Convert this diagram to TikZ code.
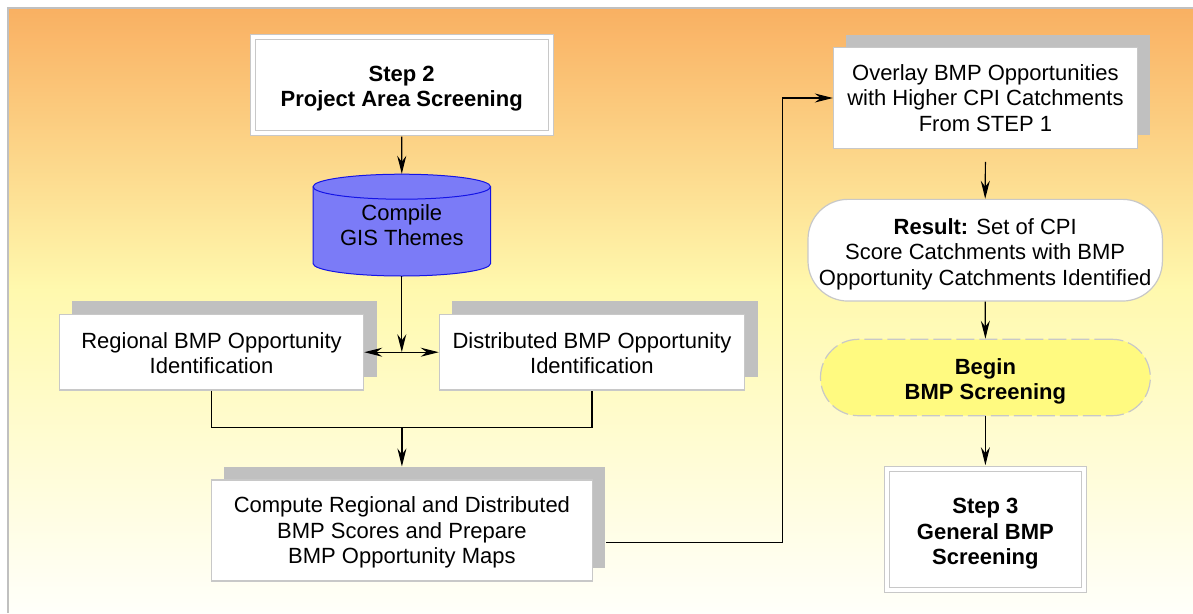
\documentclass[tikz,border=0pt]{standalone}
\usepackage{fontspec}
\setmainfont{Liberation Sans}
\usetikzlibrary{arrows.meta,shadows}
\definecolor{orangeC}{RGB}{249,176,98}
\definecolor{yellowC}{RGB}{255,249,174}
\definecolor{whiteC}{RGB}{255,255,250}
\definecolor{frameC}{RGB}{192,192,192}
\definecolor{shadowC}{RGB}{192,192,192}
\definecolor{borderC}{RGB}{200,200,200}
\definecolor{cylFill}{RGB}{123,123,247}
\definecolor{cylLine}{RGB}{20,20,230}
\definecolor{beginFill}{RGB}{255,250,128}
\newcommand{\mydown}[1]{\rule{0pt}{#1pt}}
\begin{document}
\begin{tikzpicture}[x=1pt,y=-1pt,
  txt/.style={font=\fontsize{22}{25.5}\selectfont, align=center, inner sep=0pt},
  btxt/.style={font=\fontsize{22}{25.5}\selectfont\bfseries, align=center, inner sep=0pt},
  box/.style={txt, draw=borderC, line width=1.2pt, fill=white, rectangle},
  shbox/.style={box, general shadow={fill=shadowC, shadow xshift=13pt, shadow yshift=13pt}},
  dbox/.style={btxt, draw=borderC, line width=1pt, double=white, double distance=4pt, fill=white},
  arr/.style={line width=1.2pt, -{Stealth[length=18pt,width=9pt,inset=6pt]}},
  ln/.style={line width=1.2pt}]
\useasboundingbox (0,0) rectangle (1193,613);
\fill[white] (0,0) rectangle (1193,613);
\shade[top color=orangeC, bottom color=yellowC] (8,8) rectangle (1193,290.5);
\shade[top color=yellowC, bottom color=whiteC] (8,290) rectangle (1193,613);
\draw[frameC, line width=1.5pt] (8,613) -- (8,8) -- (1193,8);

% cylinder
\fill[cylFill] (313,186.7) -- (313,263.5) arc[start angle=180,end angle=360,x radius=88.8pt,y radius=12.5pt] -- (490.6,186.7) arc[start angle=0,end angle=180,x radius=88.8pt,y radius=12.5pt] -- cycle;
\draw[cylLine, line width=1pt] (313,186.7) -- (313,263.5) arc[start angle=180,end angle=360,x radius=88.8pt,y radius=12.5pt] -- (490.6,186.7) arc[start angle=0,end angle=180,x radius=88.8pt,y radius=12.5pt] -- cycle;
\draw[cylLine, line width=1pt] (313,186.7) arc[start angle=180,end angle=360,x radius=88.8pt,y radius=12.5pt];
\node[txt, minimum width=177.6pt, minimum height=102pt] (cyl) at (401.8,225) {Compile\\GIS Themes};

\node[dbox, minimum width=298.3pt, minimum height=95.7pt] (step2) at (401.7,85.2) {\mydown{22}Step 2\\Project Area Screening};
\node[shbox, minimum width=304.3pt, minimum height=75.7pt] (regional) at (211.5,352.2) {\mydown{18}Regional BMP Opportunity\\Identification};
\node[shbox, minimum width=305.2pt, minimum height=75.7pt] (distributed) at (591.9,352.2) {\mydown{18}Distributed BMP Opportunity\\Identification};
\node[shbox, minimum width=381pt, minimum height=101pt] (compute) at (401.9,530.5) {\mydown{20}Compute Regional and Distributed\\BMP Scores and Prepare\\BMP Opportunity Maps};
\node[shbox, minimum width=304pt, minimum height=100.6pt] (overlay) at (985.4,98) {Overlay BMP Opportunities\\with Higher CPI Catchments\\From STEP 1};
\node[box, rounded corners=40pt, minimum width=354.4pt, minimum height=101.7pt] (result) at (985.2,250.2) {\mydown{24}\textbf{Result:} Set of CPI\\Score Catchments with BMP\\Opportunity Catchments Identified};
\node[btxt, draw=borderC, line width=1.2pt, dash pattern=on 18pt off 5pt, fill=beginFill, rounded corners=38pt, minimum width=329.8pt, minimum height=76.4pt] (beginbox) at (985.4,377.5) {\mydown{24}Begin\\BMP Screening};
\node[dbox, minimum width=197.3pt, minimum height=121.6pt] (step3) at (985.4,529.5) {\mydown{24}Step 3\\General BMP\\Screening};

% connectors
\draw[arr] ([yshift=-3pt]step2.south) -- (cyl.north);
\coordinate (J) at (cyl.south |- regional.east);
\draw[arr] (cyl.south) -- (J);
\draw[arr] (J) -- (regional.east);
\draw[arr] (J) -- (distributed.west);
\coordinate (M) at (401.9,427.7);
\draw[ln] (regional.south) |- (M) -| (distributed.south);
\draw[arr] (M) -- ([yshift=13pt]compute.north);
\coordinate (K) at (782.7,98);
\draw[arr] ([xshift=13pt,yshift=-12pt]compute.east) -| (K) -- (overlay.west);
\draw[arr] ([yshift=-13pt]overlay.south) -- (result.north);
\draw[arr] (result.south) -- (beginbox.north);
\draw[arr] (beginbox.south) -- ([yshift=3pt]step3.north);
\end{tikzpicture}
\end{document}
